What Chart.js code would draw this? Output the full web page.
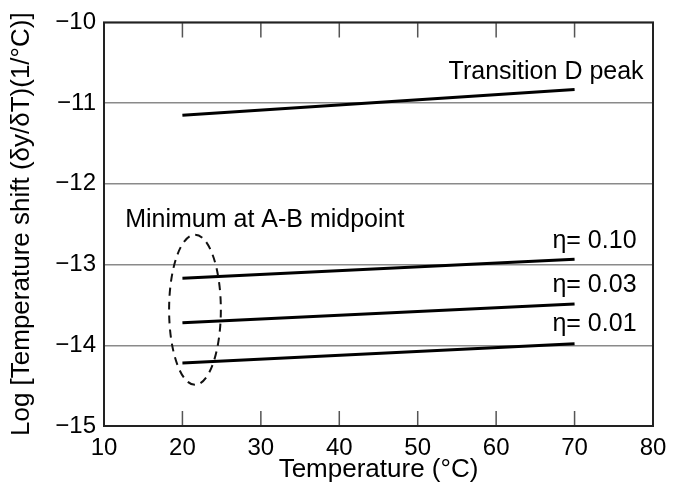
<!DOCTYPE html>
<html>
<head>
<meta charset="utf-8">
<script src="https://cdn.jsdelivr.net/npm/chart.js@4.4.1/dist/chart.umd.min.js"></script>
<style>
  html, body { margin: 0; padding: 0; background: #fff; }
  #wrap { width: 692px; height: 485px; }
</style>
</head>
<body>
<div id="wrap"><canvas id="c" width="692" height="485"></canvas></div>
<script>
// ---- data ----
const temps = [20, 70];
const transitionD = [-11.15, -10.83];
const eta010 = [-13.17, -12.935];
const eta003 = [-13.72, -13.49];
const eta001 = [-14.22, -13.98];
const xTicks = [10, 20, 30, 40, 50, 60, 70, 80];
const yTicks = [-15, -14, -13, -12, -11, -10];
const seriesLabels = ['Transition D peak', 'η= 0.10', 'η= 0.03', 'η= 0.01'];

const FONT = 'Liberation Sans, Arial, Helvetica, sans-serif';
const FS_TICK = 24;
const FS_TITLE = 26;
const FS_NOTE = 25;

function pts(ys) { return temps.map((t, i) => ({ x: t, y: ys[i] })); }
function ds(label, ys) {
  return { label, data: pts(ys), borderColor: '#000', borderWidth: 3, pointRadius: 0,
           tension: 0, fill: false, borderCapStyle: 'butt' };
}

// annotation placement (data coords)
const notes = [
  { text: 'Transition D peak', x: 78.8, y: -10.62, align: 'right' },
  { text: 'Minimum at A-B midpoint', x: 12.7, y: -12.45, align: 'left' },
  { text: 'η= 0.10', x: 77.9, y: -12.71, align: 'right' },
  { text: 'η= 0.03', x: 77.9, y: -13.25, align: 'right' },
  { text: 'η= 0.01', x: 77.9, y: -13.74, align: 'right' }
];
const ellipse = { cx: 21.6, cy: -13.56, rx: 3.3, ry: 0.93 };

const decor = {
  id: 'decor',
  afterDatasetsDraw(chart) {
    const { ctx, chartArea: a, scales: { x, y } } = chart;
    ctx.save();
    // inward tick marks top & bottom
    ctx.strokeStyle = '#555';
    ctx.lineWidth = 1.5;
    xTicks.slice(1, -1).forEach(v => {
      const px = x.getPixelForValue(v);
      ctx.beginPath();
      ctx.moveTo(px, a.top); ctx.lineTo(px, a.top + 15);
      ctx.moveTo(px, a.bottom); ctx.lineTo(px, a.bottom - 15);
      ctx.stroke();
    });
    // frame
    ctx.strokeStyle = '#222';
    ctx.lineWidth = 2;
    ctx.strokeRect(a.left, a.top, a.right - a.left, a.bottom - a.top);
    // dashed ellipse
    const ecx = x.getPixelForValue(ellipse.cx), ecy = y.getPixelForValue(ellipse.cy);
    const erx = Math.abs(x.getPixelForValue(ellipse.cx + ellipse.rx) - ecx);
    const ery = Math.abs(y.getPixelForValue(ellipse.cy + ellipse.ry) - ecy);
    ctx.setLineDash([8, 6]);
    ctx.lineWidth = 2;
    ctx.strokeStyle = '#111';
    ctx.beginPath();
    ctx.ellipse(ecx, ecy, erx, ery, 0, 0, Math.PI * 2);
    ctx.stroke();
    ctx.setLineDash([]);
    // texts
    ctx.fillStyle = '#000';
    ctx.font = FS_NOTE + 'px ' + FONT;
    ctx.textBaseline = 'middle';
    notes.forEach(n => {
      ctx.textAlign = n.align;
      ctx.fillText(n.text, x.getPixelForValue(n.x), y.getPixelForValue(n.y));
    });
    ctx.restore();
  }
};

new Chart(document.getElementById('c'), {
  type: 'line',
  data: {
    datasets: [
      ds(seriesLabels[0], transitionD),
      ds(seriesLabels[1], eta010),
      ds(seriesLabels[2], eta003),
      ds(seriesLabels[3], eta001)
    ]
  },
  options: {
    responsive: false,
    animation: false,
    layout: { padding: { top: 16, right: 39, left: 0, bottom: 0 } },
    plugins: { legend: { display: false }, tooltip: { enabled: false } },
    scales: {
      x: {
        type: 'linear', min: 10, max: 80,
        afterBuildTicks: s => { s.ticks = xTicks.map(v => ({ value: v })); },
        ticks: { color: '#000', font: { family: FONT, size: FS_TICK }, padding: 8, maxRotation: 0, autoSkip: false },
        grid: { display: false, drawTicks: false },
        border: { display: false },
        title: { display: true, text: 'Temperature (°C)', color: '#000',
                 font: { family: FONT, size: FS_TITLE }, padding: { top: 0, bottom: 0 } },
        afterFit: s => { s.height = 59; }
      },
      y: {
        type: 'linear', min: -15, max: -10,
        afterBuildTicks: s => { s.ticks = yTicks.map(v => ({ value: v })); },
        ticks: { color: '#000', font: { family: FONT, size: FS_TICK }, padding: 8,
                 callback: v => (v < 0 ? '\u2212' + Math.abs(v) : String(v)) },
        grid: { color: '#8a8a8a', lineWidth: 1.5, drawTicks: false },
        border: { display: false },
        title: { display: true, text: 'Log [Temperature shift (δy/δT)(1/°C)]', color: '#000',
                 font: { family: FONT, size: FS_TITLE }, padding: { top: 6, bottom: 0 } },
        afterFit: s => { s.width = 104; }
      }
    }
  },
  plugins: [decor]
});
</script>
</body>
</html>
